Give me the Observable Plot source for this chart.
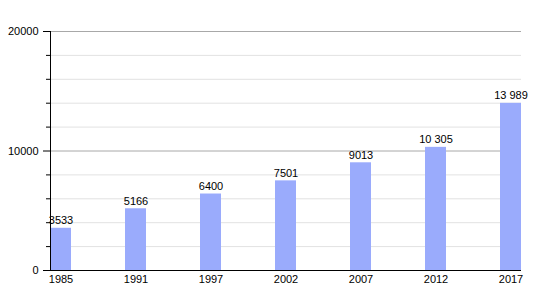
<!DOCTYPE html>
<html>
<head>
<meta charset="utf-8">
<script src="https://cdn.jsdelivr.net/npm/d3@7"></script>
<script src="https://cdn.jsdelivr.net/npm/@observablehq/plot@0.6"></script>
<style>
  html, body { margin: 0; padding: 0; background: #fff; }
</style>
</head>
<body>
<div id="chart"></div>
<script>
const years = ["1985", "1991", "1997", "2002", "2007", "2012", "2017"];
const population = [3533, 5166, 6400, 7501, 9013, 10305, 13989];
const valueLabels = ["3533", "5166", "6400", "7501", "9013", "10 305", "13 989"];
const majorTicks = [0, 10000, 20000];
const minorTicks = [2000, 4000, 6000, 8000, 12000, 14000, 16000, 18000];

const data = years.map((y, i) => ({year: y, value: population[i], label: valueLabels[i]}));

const chart = Plot.plot({
  width: 550,
  height: 300,
  marginLeft: 50,
  marginRight: 29,
  marginTop: 31,
  marginBottom: 30,
  style: {fontFamily: "Liberation Sans, Arial, sans-serif", fontSize: "11px", color: "#000", background: "#fff"},
  x: {type: "band", domain: years, paddingInner: 0.72, paddingOuter: 0, align: 0},
  y: {domain: [0, 20000]},
  marks: [
    Plot.ruleY(minorTicks, {stroke: "#e2e2e2", strokeWidth: 1}),
    Plot.ruleY([10000, 20000], {stroke: "#a8a8a8", strokeWidth: 1}),
    Plot.barY(data, {x: "year", y: "value", fill: "#9aabfc"}),
    Plot.text(data, {x: "year", y: "value", text: "label", lineAnchor: "bottom", dy: -4, fill: "#000", fontSize: 11}),
    Plot.axisY(majorTicks, {tickSize: 7, tickPadding: 5, tickFormat: d => String(d), label: null, stroke: "#000", fontSize: 11}),
    Plot.axisY(minorTicks, {tickSize: 4, text: null, label: null, stroke: "#000"}),
    Plot.axisX({tickSize: 0, tickPadding: 5, label: null, fontSize: 11}),
    Plot.frame({anchor: "left", stroke: "#000"}),
    Plot.ruleY([0], {stroke: "#000", strokeWidth: 1.2})
  ]
});
document.getElementById("chart").appendChild(chart);
</script>
</body>
</html>
